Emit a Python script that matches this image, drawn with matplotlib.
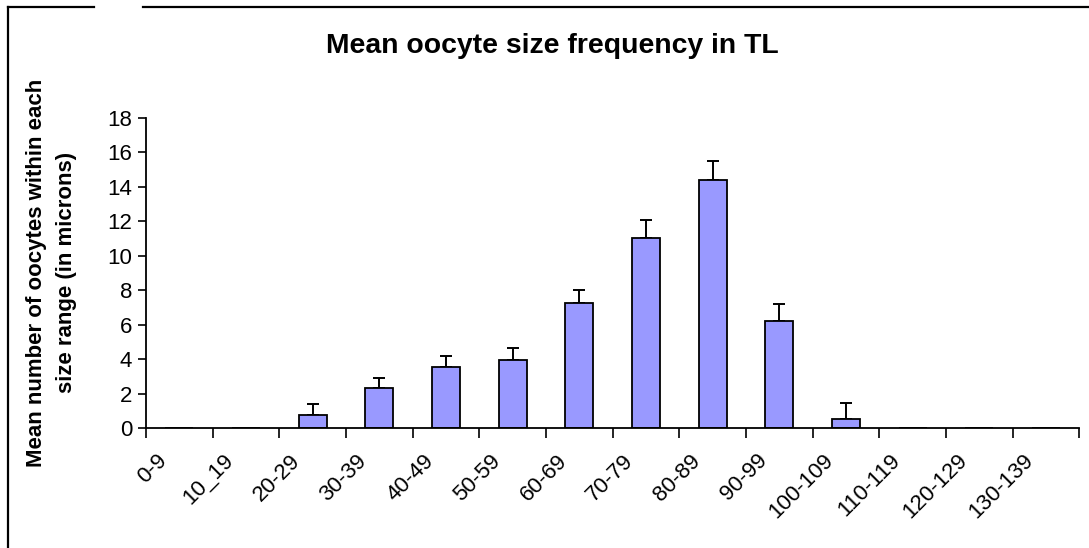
import numpy as np
import matplotlib.pyplot as plt
from matplotlib.lines import Line2D
from matplotlib.transforms import ScaledTranslation

plt.rcParams['font.family'] = ['Liberation Sans', 'DejaVu Sans']

# size classes (microns)
size_ranges = ['0-9', '10_19', '20-29', '30-39', '40-49', '50-59', '60-69',
               '70-79', '80-89', '90-99', '100-109', '110-119', '120-129', '130-139']
mean_counts = [0, 0, 0.75, 2.3, 3.55, 3.97, 7.25, 11.0, 14.42, 6.22, 0.51, 0, 0, 0]
err_up = [0, 0, 0.63, 0.62, 0.62, 0.69, 0.73, 1.05, 1.05, 0.95, 0.93, 0, 0, 0]

fig = plt.figure(figsize=(10.89, 5.48), dpi=100)
ax = fig.add_axes([0.134, 0.219, 0.857, 0.566])

x = np.arange(len(size_ranges))
ax.bar(x, mean_counts, width=0.42, color='#9999ff', edgecolor='black', linewidth=1.3, zorder=2)
has_err = [i for i in range(len(x)) if err_up[i] > 0]
ax.errorbar(x[has_err], np.array(mean_counts)[has_err],
            yerr=[np.zeros(len(has_err)), np.array(err_up)[has_err]],
            fmt='none', ecolor='black', elinewidth=1.4, capsize=4.5, capthick=1.4, zorder=1)

ax.set_xlim(-0.5, len(x) - 0.5)
ax.set_ylim(0, 18)
ax.set_yticks(range(0, 19, 2))
ax.tick_params(axis='y', labelsize=16, length=6, width=1.2, direction='out', pad=4)

ax.set_xticks(x)
ax.set_xticklabels(size_ranges, rotation=45, ha='right', va='top', fontsize=16)
ax.tick_params(axis='x', which='major', length=0, pad=16)
ax.set_xticks(np.arange(-0.5, len(x)), minor=True)
ax.tick_params(axis='x', which='minor', length=7, width=1.2, direction='out')
shift = ScaledTranslation(-8 / 100, 0, fig.dpi_scale_trans)
for lab in ax.get_xticklabels():
    lab.set_transform(lab.get_transform() + shift)

for s in ['top', 'right']:
    ax.spines[s].set_visible(False)
for s in ['left', 'bottom']:
    ax.spines[s].set_linewidth(1.3)

ax.set_ylabel('Mean number of oocytes within each\nsize range (in microns)',
              fontsize=16, fontweight='bold', labelpad=22, linespacing=1.55)
fig.text(0.507, 1 - 53 / 548, 'Mean oocyte size frequency in TL', ha='center', va='baseline',
         fontsize=20.4, fontweight='bold')

# outer chart frame (cropped: only left and top edges visible)
W, H = 1089, 548
fig.add_artist(Line2D([7.5 / W, 7.5 / W], [0, 1 - 6.5 / H], color='black', lw=1.6, transform=fig.transFigure))
fig.add_artist(Line2D([7.5 / W, 94 / W], [1 - 6.5 / H] * 2, color='black', lw=1.6, transform=fig.transFigure))
fig.add_artist(Line2D([143 / W, 1], [1 - 6.5 / H] * 2, color='black', lw=1.6, transform=fig.transFigure))

fig.savefig('out.png', dpi=100)
